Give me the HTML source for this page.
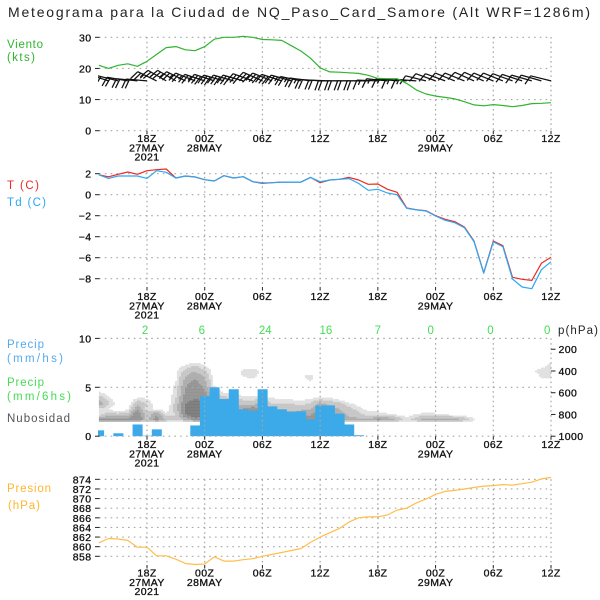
<!DOCTYPE html>
<html lang="es">
<head>
<meta charset="utf-8">
<title>Meteograma</title>
<style>
html,body{margin:0;padding:0;background:#fff;width:600px;height:600px;overflow:hidden}
svg{display:block}
text{font-family:"Liberation Sans",sans-serif}
.lbl{font-size:11.5px}
.tick{font-size:10.5px;letter-spacing:.4px;fill:#111;stroke:#111;stroke-width:.3}
</style>
</head>
<body>
<svg id="chart" width="600" height="600" viewBox="0 0 600 600" xmlns="http://www.w3.org/2000/svg">
<rect width="600" height="600" fill="#fff"/>
<text x="8" y="17" font-size="14" fill="#222" textLength="582" lengthAdjust="spacing">Meteograma para la Ciudad de NQ_Paso_Card_Samore (Alt WRF=1286m)</text>

<text class="lbl" x="7" y="48" fill="#2fb52f" textLength="36">Viento</text>
<text class="lbl" x="7" y="61" fill="#2fb52f" textLength="28">(kts)</text>
<text class="lbl" x="7" y="189" fill="#ee2a22" textLength="32">T (C)</text>
<text class="lbl" x="7" y="206" fill="#2aa8f5" textLength="39">Td (C)</text>
<text class="lbl" x="7" y="348" fill="#55aaee" textLength="37">Precip</text>
<text class="lbl" x="7" y="362" fill="#55aaee" textLength="56">(mm/hs)</text>
<text class="lbl" x="7" y="386" fill="#44dd55" textLength="37">Precip</text>
<text class="lbl" x="7" y="400" fill="#44dd55" textLength="64">(mm/6hs)</text>
<text class="lbl" x="7" y="422" fill="#555" textLength="63">Nubosidad</text>
<text class="lbl" x="7" y="492" fill="#ffb52e" textLength="44">Presion</text>
<text class="lbl" x="8" y="509" fill="#ffb52e" textLength="32">(hPa)</text>
<text class="lbl" x="558" y="334" fill="#222" textLength="40">p(hPa)</text>
</svg>
<script>
// ---- shared time axis ----
var xTickIndex = [5, 11, 17, 23, 29, 35, 41, 47];
var xTickHours = ['18Z', '00Z', '06Z', '12Z', '18Z', '00Z', '06Z', '12Z'];
var xTickDates = ['27MAY', '28MAY', '', '', '', '29MAY', '', ''];
var xTickYears = ['2021', '', '', '', '', '', '', ''];

// ---- wind panel ----
var windTicks = [0, 10, 20, 30];
var windSpeed = [21, 20, 21, 21.5, 20.7, 22.3, 24.5, 26.7, 27, 26, 25.7, 27, 29.4, 30, 30, 30.3, 30, 29.3, 29.2, 29, 27.3, 25.6, 23.3, 20.2, 18.9, 18.8, 18.6, 18.4, 17.8, 16.8, 16.7, 16.7, 15.2, 13.1, 11.8, 11.1, 10.7, 10.2, 9.3, 8.3, 8, 8.4, 8.1, 7.7, 8.1, 8.7, 8.8, 9];
var barbTilt = [20, 18, 14, 10, 6, 5, 26, 30, 30, 26, 22, 18, 18, 16, 16, 16, 20, 24, 22, 18, 16, 12, 8, 4, 2, 0, 0, 0, 0, 2, 6, 6, 4, 4, 14, 20, 20, 22, 22, 24, 24, 22, 22, 20, 18, 16, 16, 14];

// ---- temperature panel ----
var tempTicks = [2, 0, -2, -4, -6, -8];
var temperature = [1.9, 1.7, 1.94, 2.16, 1.94, 2.29, 2.38, 2.45, 1.59, 1.78, 1.69, 1.43, 1.3, 1.81, 1.59, 1.71, 1.24, 1.08, 1.14, 1.2, 1.2, 1.2, 1.65, 1.14, 1.4, 1.47, 1.65, 1.4, 0.99, 1.02, 0.51, 0.23, -1.27, -1.43, -1.52, -2, -2.34, -2.57, -3.08, -4.41, -7.43, -4.41, -4.86, -7.87, -8.06, -8.16, -6.53, -5.96];
var dewpoint = [1.9, 1.55, 1.78, 1.78, 1.78, 1.55, 2.29, 2.13, 1.59, 1.78, 1.69, 1.43, 1.3, 1.81, 1.59, 1.71, 1.24, 1.12, 1.14, 1.2, 1.2, 1.2, 1.65, 1.24, 1.4, 1.47, 1.53, 1.08, 0.42, 0.51, 0.16, 0, -1.3, -1.45, -1.55, -2.03, -2.44, -2.67, -3.14, -4.47, -7.48, -4.5, -4.95, -8.03, -8.79, -8.95, -7.14, -6.38];

// ---- precipitation and cloud panel ----
var precipTicks = [0, 5, 10];
var pressureLevelTicks = [200, 400, 600, 800, 1000];
var precipHourly = [0.6, 0, 0.3, 0, 1.2, 0.05, 0.7, 0, 0, 0, 1.1, 4.1, 5, 3.8, 4.8, 2.75, 2.6, 4.8, 3.05, 2.75, 2.5, 2.55, 1.7, 3.15, 3.15, 2.3, 1.2, 0.1, 0, 0, 0, 0, 0, 0, 0, 0, 0, 0, 0, 0, 0, 0, 0, 0, 0, 0, 0, 0];
var sixHourTotals = ['2', '6', '24', '16', '7', '0', '0', '0'];
var sixHourLabelIndex = [4.8, 10.7, 17.3, 23.6, 29, 34.5, 40.7, 46.6];
var cloudLevels = [300, 350, 400, 450, 500, 550, 600, 650, 700, 750, 800, 850, 875];
var cloud300 = [0,0,0,0,0,0,0,0,0,0,0,0, 0,0,0,0,0,0,0,0,0,0,0,0, 0,0,0,0,0,0,0,0,0,0,0,0, 0,0,0,0,0,0,0,0,0,0,0,0.5];
var cloud350 = [0,0,0,0,0,0,0,0,0,1.2,2,1, 0,0,0,0,0,0,0,0,0,0,0,0, 0,0,0,0,0,0,0,0,0,0,0,0, 0,0,0,0,0,0,0,0,0,0,0.5,1.5];
var cloud400 = [0,0,0,0,0,0,0,0,0.8,2.5,3.5,2.2, 0.3,0,0.2,1.3,1.8,0.6,0,0,0,0,0,0, 0,0,0,0,0,0,0,0,0,0,0,0, 0,0,0,0,0,0,0,0,0,0.8,1.5,2];
var cloud450 = [0,0,0,0,0,0,0,0,0.9,3.5,4.5,3.3, 0.4,0,0.2,1.1,1.4,0.4,0,0,0,0.8,1.5,0.3, 0,0,0,0,0,0,0,0,0,0,0,0, 0,0,0,0,0,0,0,0,0,0.2,1.2,1.5];
var cloud500 = [0,0,0,0,0,0,0,0,1,4.5,5.5,4, 0.6,0,0,0,0,0,0,0,0,0.3,0.9,0, 0,0,0,0,0,0,0,0,0,0,0,0, 0,0,0,0,0,0,0,0,0,0,0,0];
var cloud550 = [0,0,0,0,0,0,0,0,1.4,5,6.2,4.8, 1,0.3,0,0,0,0,0,0,0,0,0,0, 0,0,0,0,0,0,0,0,0,0,0,0, 0,0,0,0,0,0,0,0,0,0,0,0];
var cloud600 = [1.2,0.5,0,0,0,0,0,0,1.6,5.5,6.6,5.5, 2,0.9,0.6,0.3,0,0,0,0,0,0,0,0, 0,0,0,0,0,0,0,0,0,0,0,0, 0,0,0,0,0,0,0,0,0,0,0,0];
var cloud650 = [3,1.2,0,0,1.1,0.9,0,0,2,6,7,6, 4,2.5,2,1.5,1.5,1.5,1,0.8,0.6,0.6,0.8,1.2, 1.2,0.3,0,0,0,0,0,0,0,0,0,0, 0,0,0,0,0,0,0,0,0,0,0,0];
var cloud700 = [4.5,2.5,0,0,3,2,0,0,2.5,7,8,7, 5.5,4,3.5,3,3,3.5,2,2,2,1.5,2.2,4, 3,2.5,1.2,0.5,0,0,0,0,0,0,0,0, 0,0,0,0,0,0,0,0,0,0,0,0];
var cloud750 = [2,1,0,0.5,5,1.5,0.8,0,3,7.5,9.5,8, 6.5,5,5,5,6,5,3,3,3,3,3.5,5, 4.5,3.5,2.5,1.5,0.6,0.5,0.2,0,0,0,0,0, 0,0,0,0,0,0,0,0,0,0,0,0];
var cloud800 = [1.4,2.5,2.5,3,7,2.5,5,1.5,2,7,9,8, 5,5,5,5,5,5,5,5,5,5,5,6, 5,4,3.2,2.5,1.5,1.6,1.2,0.8,0.5,1,1.6,1.2, 0.8,0.6,0.4,0,0,0,0,0,0,0,0,0];
var cloud850 = [6,6,6,6,7,3,6,3,2,3.5,6,5, 5,5,5,5,5,5,5,5,5,5,5,5, 5,4.5,4,4,4,5.5,5,3.5,1.4,3,4.5,4.5, 4.5,4.5,3,1.2,0.3,1.1,0.2,0,0,0,0,0];
var cloud875 = [0,0,0,0,0,0,0,0,0,0,0,0, 0,0,0,0,0,0,0,0,0,0,0,0, 0,0,0,0,0,0,0,0,0,0,0,0, 0,0,0,0,0,0,0,0,0,0,0,0];
var cloudGrid = [cloud300, cloud350, cloud400, cloud450, cloud500, cloud550, cloud600, cloud650, cloud700, cloud750, cloud800, cloud850, cloud875];
var cloudThresholds = [1, 2, 3.5, 5, 7];

// ---- station pressure panel ----
var slpTicks = [874, 872, 870, 868, 866, 864, 862, 860, 858];
var stationPressure = [860.8, 861.7, 861.6, 861.3, 859.9, 859.9, 858.1, 858.1, 857.4, 856.5, 856.3, 856.4, 857.9, 857, 857, 857.3, 857.5, 858, 858.4, 858.8, 859.2, 859.6, 860.9, 862, 862.9, 863.8, 865.1, 866, 866.2, 866.2, 866.6, 867.6, 868, 869.1, 869.9, 870.9, 871.5, 871.7, 872, 872.3, 872.6, 872.7, 872.9, 872.8, 873.1, 873.4, 874.1, 874.4];

var NS = 'http://www.w3.org/2000/svg';
var svg = document.getElementById('chart');
var X0 = 98.9, X1 = 551;
function xOf(i) { return X0 + i * (X1 - X0) / 47; }
function yWind(v) { return 130.7 - v * 3.113; }
function yTemp(v) { return 194.7 - v * 10.5; }
function yPrecip(v) { return 436.2 - v * 9.78; }
function yLevel(p) { return 436.2 - (1000 - p) * 0.1087; }
function yPres(v) { return 556.3 - (v - 858) * 4.81; }

function make(tag, attrs, parent) {
  var el = document.createElementNS(NS, tag);
  for (var k in attrs) el.setAttribute(k, attrs[k]);
  (parent || svg).appendChild(el);
  return el;
}
function group(name) {
  var g = document.createElementNS(NS, 'g');
  
  
  svg.appendChild(g);
  return g;
}

// cloud contours
var cloudColors = ['#e0e0e0', '#c6c6c6', '#acacac', '#949494', '#7c7c7c'];
function cloudAt(i, p) {
  var r = 0;
  while (r < cloudLevels.length - 2 && p > cloudLevels[r + 1]) r++;
  var t = (p - cloudLevels[r]) / (cloudLevels[r + 1] - cloudLevels[r]);
  if (t < 0 || t > 1) return 0;
  var c = Math.min(Math.floor(i), 46), u = i - c;
  var a = cloudGrid[r][c] * (1 - u) + cloudGrid[r][c + 1] * u;
  var b = cloudGrid[r + 1][c] * (1 - u) + cloudGrid[r + 1][c + 1] * u;
  return a * (1 - t) + b * t;
}
function cloudBand(v) {
  var band = -1;
  for (var k = 0; k < cloudThresholds.length; k++) if (v >= cloudThresholds[k]) band = k;
  return band;
}
var cloudG = group('cloud-contours');
var stepX = 2, stepY = 1.5;
for (var py = yLevel(300); py < yLevel(875); py += stepY) {
  var p = 1000 - (436.2 - (py + stepY / 2)) / 0.1087;
  var runStart = null, runBand = -1;
  for (var px = X0; px <= X1 + stepX; px += stepX) {
    var band = px > X1 ? -1 : cloudBand(cloudAt((px + stepX / 2 - X0) / (X1 - X0) * 47, p));
    if (band !== runBand) {
      if (runBand >= 0) {
        var cell = make('rect', { x: runStart, y: py, width: Math.min(px, X1) - runStart, height: stepY + 0.2, fill: cloudColors[runBand] }, cloudG);
        
        
      }
      runStart = px;
      runBand = band;
    }
  }
}

// hourly precipitation bars
var barsG = group('hourly-precip-bars');
var barW = (X1 - X0) / 47;
precipHourly.forEach(function (v, i) {
  if (v <= 0) return;
  var left = Math.max(X0 - 0.9, xOf(i) - barW / 2);
  var right = Math.min(X1, xOf(i) + barW / 2 + 0.4);
  var bar = make('rect', { x: left, y: yPrecip(v), width: right - left, height: yPrecip(0) - yPrecip(v), fill: '#3ca9e8' }, barsG);
  
  
});

// grid, axes, tick labels
function panel(name, top, bottom, ticks, yFn, fmt, baselines) {
  var g = group(name + '-axes');
  ticks.forEach(function (t) {
    var y = yFn(t);
    var gl = make('line', { x1: 99, x2: X1, y1: y, y2: y, stroke: '#a8a8a8', 'stroke-width': 1.2, 'stroke-dasharray': '1.6 4.2' }, g);
    
    
    var tk = make('line', { x1: 95, x2: 99.5, y1: y, y2: y, stroke: '#222', 'stroke-width': 1 }, g);
    
    
    var lb = make('text', { x: 91.5, y: y + 4, 'text-anchor': 'end', 'class': 'tick' }, g);
    
    
    lb.textContent = fmt(t);
  });
  xTickIndex.forEach(function (idx, n) {
    var x = xOf(idx);
    var gl = make('line', { x1: x, x2: x, y1: top, y2: bottom, stroke: '#a8a8a8', 'stroke-width': 1.2, 'stroke-dasharray': '1.6 3.2' }, g);
    
    
    var tk = make('line', { x1: x, x2: x, y1: bottom, y2: bottom + 3.5, stroke: '#222', 'stroke-width': 1 }, g);
    
    
    [xTickHours[n], xTickDates[n], xTickYears[n]].forEach(function (txt, row) {
      if (!txt) return;
      var lb = make('text', { x: x, y: baselines[row], 'text-anchor': 'middle', 'class': 'tick' }, g);
      
      
      lb.textContent = txt;
    });
  });
}
function asText(t) { return String(t).replace('-', '\u2212'); }
panel('wind', 37, 130.7, windTicks, yWind, asText, [142, 151.5, 160.5]);
panel('temperature', 172, 287, tempTicks, yTemp, asText, [300, 309.5, 318.5]);
panel('precip', 338.3, 436.2, precipTicks, yPrecip, asText, [448, 457.5, 466.5]);
panel('pressure', 479.3, 565, slpTicks, yPres, asText, [576.5, 586, 595]);

// right pressure-level axis
var rightG = group('pressure-level-axis');
pressureLevelTicks.forEach(function (p) {
  var y = yLevel(p);
  var tk = make('line', { x1: 551, x2: 555.5, y1: y, y2: y, stroke: '#222', 'stroke-width': 1 }, rightG);
  
  
  var lb = make('text', { x: 558.5, y: y + 4, 'class': 'tick' }, rightG);
  
  
  lb.textContent = String(p);
});

// six-hour totals
var totalsG = group('six-hour-totals');
sixHourTotals.forEach(function (t, n) {
  var lb = make('text', { x: xOf(sixHourLabelIndex[n]), y: 334, 'text-anchor': 'middle', 'font-size': 11.5, fill: '#44dd55' }, totalsG);
  
  
  lb.textContent = t;
});

// wind barbs
var clip = make('clipPath', { id: 'barbClip' });
make('rect', { x: 98, y: 60, width: 454, height: 40 }, clip);
var barbsG = group('wind-barbs');
barbsG.setAttribute('clip-path', 'url(#barbClip)');
var BARB_Y = 16, SHAFT = 21, FEATHER = 10, GAP = 3.4, TURN = -70 * Math.PI / 180;
windSpeed.forEach(function (speed, i) {
  var a = barbTilt[i] * Math.PI / 180;
  var dx = -Math.cos(a), dy = -Math.sin(a);
  var fx = dx * Math.cos(TURN) - dy * Math.sin(TURN);
  var fy = dx * Math.sin(TURN) + dy * Math.cos(TURN);
  var ax = xOf(i), ay = yWind(BARB_Y);
  var d = 'M' + ax + ' ' + ay + 'L' + (ax + dx * SHAFT) + ' ' + (ay + dy * SHAFT);
  var rounded = Math.round(speed / 5) * 5;
  var pos = SHAFT;
  while (rounded >= 10) {
    d += 'M' + (ax + dx * pos) + ' ' + (ay + dy * pos) + 'l' + fx * FEATHER + ' ' + fy * FEATHER;
    pos -= GAP;
    rounded -= 10;
  }
  if (rounded >= 5) {
    d += 'M' + (ax + dx * pos) + ' ' + (ay + dy * pos) + 'l' + fx * FEATHER / 2 + ' ' + fy * FEATHER / 2;
  }
  var barb = make('path', { d: d, fill: 'none', stroke: '#111', 'stroke-width': 1.25 }, barbsG);
  
  
});

// line series
function series(name, values, yFn, color) {
  var pts = values.map(function (v, i) { return xOf(i).toFixed(1) + ',' + yFn(v).toFixed(1); }).join(' ');
  var line = make('polyline', { points: pts, fill: 'none', stroke: color, 'stroke-width': 1.2, 'stroke-linejoin': 'round' });
  
  
}
series('wind-speed-line', windSpeed, yWind, '#2fb52f');
series('temperature-line', temperature, yTemp, '#ee2a22');
series('dewpoint-line', dewpoint, yTemp, '#2aa8f5');
series('station-pressure-line', stationPressure, yPres, '#ffbe4a');
</script>
</body>
</html>
